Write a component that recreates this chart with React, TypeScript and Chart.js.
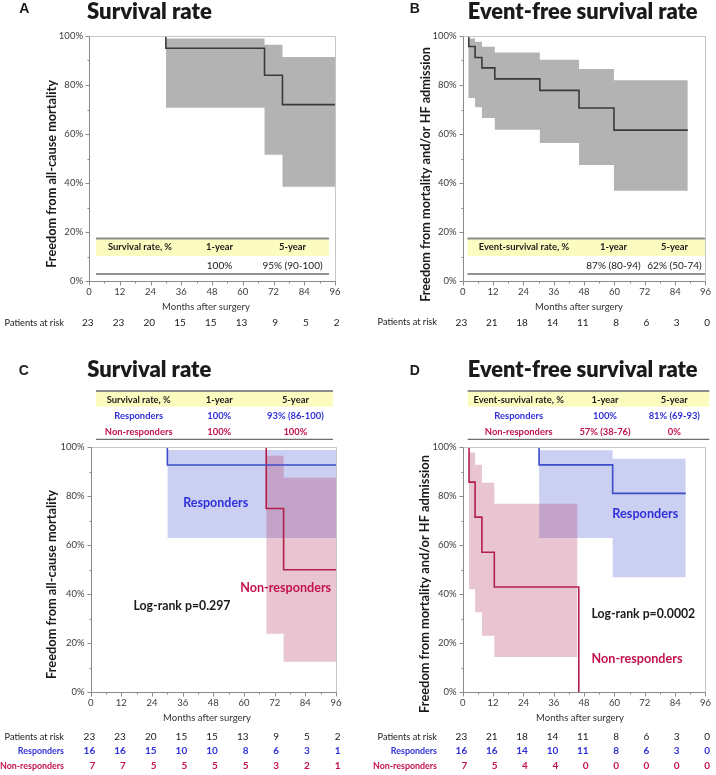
import React, { useEffect, useRef } from 'react';
import { Chart, registerables } from 'chart.js';
Chart.register(...registerables);

const FONT = 'Lato, "Noto Sans", sans-serif';

// ---------- shared ----------
const monthTicks = [0, 12, 24, 36, 48, 60, 72, 84, 96];

// ---------- Panel A: survival ----------
const aCurveT = [30, 30, 68.5, 75.5, 96];
const aCurveS = [100, 95, 84, 72, 72];
const aBandT = [30, 68.5, 75.5, 96];
const aBandUp = [99, 96.4, 91.4, 91.4];
const aBandLo = [70.7, 51.5, 38.5, 38.5];
const aRiskAll = [23, 23, 20, 15, 15, 13, 9, 5, 2];
const aTableHead = ['Survival rate, %', '1-year', '5-year'];
const aTableRow = ['', '100%', '95% (90-100)'];

// ---------- Panel B: event-free survival ----------
const bCurveT = [2.4, 2.4, 4.9, 7.6, 12.7, 30.5, 46, 59.8, 89];
const bCurveS = [100, 95.7, 91.2, 87, 82.5, 77.8, 70.6, 61.6, 61.6];
const bBandT = [2.2, 4.9, 7.6, 12.7, 30.5, 46, 59.8, 89];
const bBandUp = [99, 97.7, 95.6, 93.3, 90.3, 86.5, 81.9, 81.9];
const bBandLo = [74.7, 70.9, 66.5, 61.7, 56.3, 47.3, 36.8, 36.8];
const bRiskAll = [23, 21, 18, 14, 11, 8, 6, 3, 0];
const bTableHead = ['Event-survival rate, %', '1-year', '5-year'];
const bTableRow = ['', '87% (80-94)', '62% (50-74)'];

// ---------- Panel C: survival by response ----------
const cRespT = [30, 30, 96];
const cRespS = [100, 92.8, 92.8];
const cRespBandT = [30, 96];
const cRespBandUp = [98.9, 98.9];
const cRespBandLo = [63, 63];
const cNonT = [68.7, 68.7, 75.5, 96];
const cNonS = [100, 75, 50, 50];
const cNonBandT = [68.7, 75.5, 96];
const cNonBandUp = [96.6, 87.6, 87.6];
const cNonBandLo = [23.9, 12.5, 12.5];
const cRiskAll = [23, 23, 20, 15, 15, 13, 9, 5, 2];
const cRiskResp = [16, 16, 15, 10, 10, 8, 6, 3, 1];
const cRiskNon = [7, 7, 5, 5, 5, 5, 3, 2, 1];
const cTableHead = ['Survival rate, %', '1-year', '5-year'];
const cTableResp = ['Responders', '100%', '93% (86-100)'];
const cTableNon = ['Non-responders', '100%', '100%'];

// ---------- Panel D: event-free survival by response ----------
const dRespT = [30.2, 30.2, 59.3, 88.2];
const dRespS = [100, 92.7, 81.1, 81.1];
const dRespBandT = [30.2, 59.3, 88.2];
const dRespBandUp = [98.7, 95.2, 95.2];
const dRespBandLo = [62.9, 46.9, 46.9];
const dNonT = [2.5, 2.5, 4.9, 7.6, 12.5, 45.9];
const dNonS = [100, 85.7, 71.4, 57.1, 42.9, 0];
const dNonBandT = [2.5, 4.9, 7.6, 12.5, 45.4];
const dNonBandUp = [97.8, 92.8, 85.4, 76.9, 76.9];
const dNonBandLo = [42, 32.6, 23.1, 14.4, 14.4];
const dRiskAll = [23, 21, 18, 14, 11, 8, 6, 3, 0];
const dRiskResp = [16, 16, 14, 10, 11, 8, 6, 3, 0];
const dRiskNon = [7, 5, 4, 4, 0, 0, 0, 0, 0];
const dTableHead = ['Event-survival rate, %', '1-year', '5-year'];
const dTableResp = ['Responders', '100%', '81% (69-93)'];
const dTableNon = ['Non-responders', '57% (38-76)', '0%'];

// ---------- styles ----------
const GRAY_BAND = 'rgba(179,179,179,1)';
const GRAY_LINE = '#3a3a3a';
const BLUE_BAND = 'rgba(98,112,215,0.33)';
const RED_BAND = 'rgba(175,40,85,0.27)';
const BLUE_LINE = '#3d4cc9';
const RED_LINE = '#b21f4b';
const BLUE_TXT = '#2f30d8';
const RED_TXT = '#c3124f';
const DARK = '#1a1a1a';

type Txt = { t: string; x: number; y: number; w?: number; s?: number; b?: boolean; wt?: string; c?: string; a?: CanvasTextAlign; r?: boolean; f?: string };
type Risk = { label: string; values: number[]; color: string; bold: boolean; y: number };
type TableRow = { cells: string[]; color: string; bold: boolean; y: number };
type Panel = {
  cv: [number, number, number, number];
  plot: [number, number, number, number];
  datasets: any[];
  texts: Txt[];
  table: { x1: number; x2: number; top: number; yb: number; bottom: number; cols: number[]; headY: number; head: string[]; rows: TableRow[] };
  risk: Risk[];
  riskLabelRight: number;
};

const pts = (xs: number[], ys: number[]) => xs.map((x, i) => ({ x, y: ys[i] }));
const curve = (xs: number[], ys: number[], color: string) => ({
  data: pts(xs, ys), stepped: true, borderColor: color, borderWidth: 1.6, pointRadius: 0, fill: false,
});
const band = (xs: number[], up: number[], lo: number[], color: string) => [
  { data: pts(xs, up), stepped: true, borderColor: 'rgba(0,0,0,0)', borderWidth: 0, pointRadius: 0, fill: '+1', backgroundColor: color },
  { data: pts(xs, lo), stepped: true, borderColor: 'rgba(0,0,0,0)', borderWidth: 0, pointRadius: 0, fill: false },
];

function drawText(ctx: CanvasRenderingContext2D, t: Txt) {
  ctx.save();
  const weight = t.wt ? t.wt + ' ' : t.b ? 'bold ' : '';
  const fam = t.f || FONT;
  let size = t.s || 10;
  if (t.w) {
    ctx.font = `${weight}20px ${fam}`;
    size = (20 * t.w) / ctx.measureText(t.t).width;
  }
  ctx.font = `${weight}${size}px ${fam}`;
  ctx.fillStyle = t.c || DARK;
  ctx.textAlign = t.a || 'center';
  ctx.textBaseline = 'middle';
  ctx.translate(t.x, t.y);
  if (t.r) ctx.rotate(-Math.PI / 2);
  ctx.fillText(t.t, 0, 0);
  ctx.restore();
}

const deco = (p: Panel) => ({
  id: 'deco',
  afterDraw(chart: any) {
    const ctx: CanvasRenderingContext2D = chart.ctx;
    const [cl, ct] = p.cv;
    const xs = chart.scales.x;
    const ys = chart.scales.y;
    const X = (v: number) => xs.getPixelForValue(v) + cl;
    const Y = (v: number) => ys.getPixelForValue(v) + ct;
    const h = (v: number) => Math.round(v) + 0.5;
    ctx.save();
    ctx.translate(-cl, -ct);
    const L = X(0), R = X(96), T = Y(100), B = Y(0);
    // frame
    ctx.lineWidth = 1;
    ctx.strokeStyle = '#c6c6c6';
    ctx.beginPath();
    ctx.moveTo(h(L), h(T)); ctx.lineTo(h(R), h(T)); ctx.lineTo(h(R), h(B));
    ctx.stroke();
    ctx.strokeStyle = '#8a8a8a';
    ctx.beginPath();
    ctx.moveTo(h(L), h(T)); ctx.lineTo(h(L), h(B)); ctx.lineTo(h(R), h(B));
    ctx.stroke();
    // tick marks
    ctx.beginPath();
    for (let v = 0; v <= 96; v += 6) {
      const len = v % 12 === 0 ? 4 : 2;
      ctx.moveTo(h(X(v)), h(B)); ctx.lineTo(h(X(v)), h(B) + len);
    }
    for (let v = 0; v <= 100; v += 10) {
      const len = v % 20 === 0 ? 4 : 2;
      ctx.moveTo(h(L), h(Y(v))); ctx.lineTo(h(L) - len, h(Y(v)));
    }
    ctx.stroke();
    // table
    const tb = p.table;
    ctx.fillStyle = '#fdfcc0';
    ctx.fillRect(tb.x1, tb.top, tb.x2 - tb.x1, tb.yb - tb.top);
    ctx.strokeStyle = '#8c8c8c';
    ctx.lineWidth = 2;
    ctx.beginPath(); ctx.moveTo(tb.x1, tb.top); ctx.lineTo(tb.x2, tb.top); ctx.stroke();
    ctx.strokeStyle = '#6e6e6e';
    ctx.lineWidth = 1.3;
    ctx.beginPath(); ctx.moveTo(tb.x1, tb.bottom); ctx.lineTo(tb.x2, tb.bottom); ctx.stroke();
    tb.head.forEach((s, i) => drawText(ctx, { t: s, x: tb.cols[i], y: tb.headY, s: 9.4, b: true, c: DARK }));
    tb.rows.forEach((row) => row.cells.forEach((s, i) => {
      if (s) drawText(ctx, { t: s, x: tb.cols[i], y: row.y, s: row.bold ? 9.4 : 10, b: row.bold, c: row.color });
    }));
    // free texts
    p.texts.forEach((t) => drawText(ctx, t));
    // risk table
    p.risk.forEach((r) => {
      drawText(ctx, { t: r.label, x: p.riskLabelRight, y: r.y, s: r.bold ? 8.9 : 9.2, b: r.bold, c: r.color, a: 'right' });
      r.values.forEach((v, i) => drawText(ctx, { t: String(v), x: X(monthTicks[i]) + 4.5, y: r.y, s: 10, b: r.bold, c: r.color, a: 'right' }));
    });
    ctx.restore();
  },
});

const LETTER_FONT = '"Liberation Sans", Arial, sans-serif';

const panels: Panel[] = [
  {
    cv: [0, 0, 358, 340],
    plot: [89, 36, 335, 281],
    datasets: [curve(aCurveT, aCurveS, GRAY_LINE), ...band(aBandT, aBandUp, aBandLo, GRAY_BAND)],
    texts: [
      { t: 'A', x: 24.3, y: 8.8, s: 14, b: true, f: LETTER_FONT },
      { t: 'Survival rate', x: 87, y: 11.5, w: 125, wt: '800', a: 'left' },
      { t: 'Freedom from all-cause mortality', x: 51.5, y: 174, w: 188, b: true, r: true },
      { t: 'Months after surgery', x: 206, y: 306.5, w: 88, c: '#333' },
    ],
    table: { x1: 96, x2: 329, top: 238.5, yb: 256, bottom: 274, cols: [140, 219.5, 292.5], headY: 247.3, head: aTableHead, rows: [{ cells: aTableRow, color: DARK, bold: false, y: 265.5 }] },
    risk: [{ label: 'Patients at risk', values: aRiskAll, color: DARK, bold: false, y: 322.7 }],
    riskLabelRight: 64,
  },
  {
    cv: [358, 0, 358, 340],
    plot: [462.7, 36, 706, 281],
    datasets: [curve(bCurveT, bCurveS, GRAY_LINE), ...band(bBandT, bBandUp, bBandLo, GRAY_BAND)],
    texts: [
      { t: 'B', x: 414.8, y: 8.8, s: 14, b: true, f: LETTER_FONT },
      { t: 'Event-free survival rate', x: 467.7, y: 11.5, w: 230, wt: '800', a: 'left' },
      { t: 'Freedom from mortality and/or HF admission', x: 425.5, y: 174.5, w: 255, b: true, r: true },
      { t: 'Months after surgery', x: 579, y: 306.5, w: 88, c: '#333' },
    ],
    table: { x1: 467.5, x2: 705, top: 238.5, yb: 256, bottom: 274, cols: [524, 613.5, 674.5], headY: 247.3, head: bTableHead, rows: [{ cells: bTableRow, color: DARK, bold: false, y: 265.5 }] },
    risk: [{ label: 'Patients at risk', values: bRiskAll, color: DARK, bold: false, y: 322.3 }],
    riskLabelRight: 437,
  },
  {
    cv: [0, 340, 358, 435],
    plot: [90.7, 447.3, 336, 692.3],
    datasets: [
      curve(cRespT, cRespS, BLUE_LINE),
      curve(cNonT, cNonS, RED_LINE),
      ...band(cNonBandT, cNonBandUp, cNonBandLo, RED_BAND),
      ...band(cRespBandT, cRespBandUp, cRespBandLo, BLUE_BAND),
    ],
    texts: [
      { t: 'C', x: 23.7, y: 371.3, s: 14, b: true, f: LETTER_FONT },
      { t: 'Survival rate', x: 87.3, y: 369.8, w: 124, wt: '800', a: 'left' },
      { t: 'Freedom from all-cause mortality', x: 51.7, y: 584.5, w: 189, b: true, r: true },
      { t: 'Months after surgery', x: 207, y: 717.7, w: 88, c: '#333' },
      { t: 'Responders', x: 215.7, y: 502.7, w: 65, b: true, c: BLUE_TXT },
      { t: 'Non-responders', x: 285.7, y: 587.7, w: 91, b: true, c: RED_TXT },
      { t: 'Log-rank p=0.297', x: 182, y: 606, w: 97, b: true, c: DARK },
    ],
    table: {
      x1: 96, x2: 333, top: 391, yb: 406.7, bottom: 439.3, cols: [138.7, 219.3, 295.4], headY: 400, head: cTableHead,
      rows: [
        { cells: cTableResp, color: BLUE_TXT, bold: true, y: 416 },
        { cells: cTableNon, color: RED_TXT, bold: true, y: 432 },
      ],
    },
    risk: [
      { label: 'Patients at risk', values: cRiskAll, color: DARK, bold: false, y: 736.7 },
      { label: 'Responders', values: cRiskResp, color: BLUE_TXT, bold: true, y: 751 },
      { label: 'Non-responders', values: cRiskNon, color: RED_TXT, bold: true, y: 765.7 },
    ],
    riskLabelRight: 64,
  },
  {
    cv: [358, 340, 358, 435],
    plot: [462.7, 447, 708.3, 692.3],
    datasets: [
      curve(dRespT, dRespS, BLUE_LINE),
      curve(dNonT, dNonS, RED_LINE),
      ...band(dNonBandT, dNonBandUp, dNonBandLo, RED_BAND),
      ...band(dRespBandT, dRespBandUp, dRespBandLo, BLUE_BAND),
    ],
    texts: [
      { t: 'D', x: 414.7, y: 371.3, s: 14, b: true, f: LETTER_FONT },
      { t: 'Event-free survival rate', x: 467.7, y: 369.8, w: 230, wt: '800', a: 'left' },
      { t: 'Freedom from mortality and/or HF admission', x: 425.3, y: 584, w: 258, b: true, r: true },
      { t: 'Months after surgery', x: 580, y: 717.5, w: 88, c: '#333' },
      { t: 'Responders', x: 645.3, y: 514.3, w: 66, b: true, c: BLUE_TXT },
      { t: 'Log-rank p=0.0002', x: 643.3, y: 614.3, w: 104, b: true, c: DARK },
      { t: 'Non-responders', x: 637, y: 659.3, w: 91, b: true, c: RED_TXT },
    ],
    table: {
      x1: 467.7, x2: 709.3, top: 391, yb: 406.7, bottom: 439.3, cols: [518.7, 605, 674.3], headY: 400, head: dTableHead,
      rows: [
        { cells: dTableResp, color: BLUE_TXT, bold: true, y: 416 },
        { cells: dTableNon, color: RED_TXT, bold: true, y: 432 },
      ],
    },
    risk: [
      { label: 'Patients at risk', values: dRiskAll, color: DARK, bold: false, y: 736.7 },
      { label: 'Responders', values: dRiskResp, color: BLUE_TXT, bold: true, y: 751 },
      { label: 'Non-responders', values: dRiskNon, color: RED_TXT, bold: true, y: 765.7 },
    ],
    riskLabelRight: 437,
  },
];

function PanelChart({ p }: { p: Panel }) {
  const ref = useRef<HTMLCanvasElement>(null);
  useEffect(() => {
    const [cl, ct, cw, ch] = p.cv;
    const [pl, pt, pr, pb] = p.plot;
    const YW = 40;
    const XH = 24;
    const tickFont = { family: FONT, size: 9.5 };
    const chart = new Chart(ref.current as HTMLCanvasElement, {
      type: 'line',
      data: { datasets: p.datasets },
      options: {
        animation: false,
        responsive: false,
        devicePixelRatio: 1,
        layout: { padding: { left: pl - cl - YW, top: pt - ct, right: cl + cw - pr, bottom: ct + ch - pb - XH } },
        plugins: { legend: { display: false }, tooltip: { enabled: false } },
        scales: {
          x: {
            type: 'linear', min: 0, max: 96,
            afterFit: (s: any) => { s.height = XH; },
            grid: { display: false, drawTicks: false, tickLength: 0 },
            border: { display: false },
            ticks: { stepSize: 12, font: tickFont, color: '#3c3c3c', padding: 5, maxRotation: 0, autoSkip: false },
          },
          y: {
            type: 'linear', min: 0, max: 100,
            afterFit: (s: any) => { s.width = YW; },
            grid: { display: false, drawTicks: false, tickLength: 0 },
            border: { display: false },
            ticks: { stepSize: 20, font: tickFont, color: '#3c3c3c', padding: 6, callback: (v: any) => v + '%' },
          },
        },
      } as any,
      plugins: [deco(p)],
    });
    return () => chart.destroy();
  }, []);
  return (
    <canvas
      ref={ref}
      width={p.cv[2]}
      height={p.cv[3]}
      style={{ position: 'absolute', left: p.cv[0], top: p.cv[1], width: p.cv[2], height: p.cv[3] }}
    />
  );
}

export default function App() {
  return (
    <div style={{ position: 'absolute', left: 0, top: 0, width: 716, height: 775, background: '#fff', overflow: 'hidden' }}>
      {panels.map((p, i) => <PanelChart key={i} p={p} />)}
    </div>
  );
}
